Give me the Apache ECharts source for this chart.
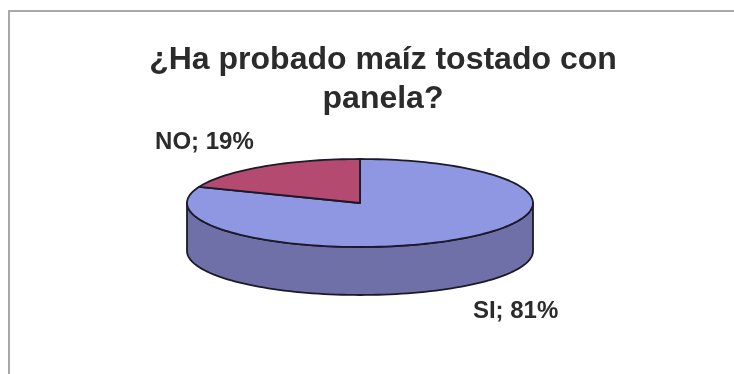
<!DOCTYPE html>
<html>
<head>
<meta charset="utf-8">
<script src="https://cdn.jsdelivr.net/npm/echarts@6/dist/echarts.min.js"></script>
<style>
  html, body { margin: 0; padding: 0; background: #ffffff; }
  #chart { width: 734px; height: 374px; }
</style>
</head>
<body>
<div id="chart"></div>
<script>
// Survey answers
const categories = ['SI', 'NO'];
const values = [81, 19];
const titleText = '¿Ha probado maíz tostado con\npanela?';

// Look of the tilted pie
const sliceColors = {
  SI: { top: '#8f96e2', side: '#6f70a8' },
  NO: { top: '#b44a70', side: '#7c2f4c' }
};
const pieLayout = { cx: 360, cy: 203, rx: 173, ry: 44, depth: 48 };
const labelReach = { x: 1.6, y: 1.66 };
const outline = '#1a1a28';

const total = values.reduce((a, b) => a + b, 0);
// Slices run clockwise from twelve o'clock (screen angles, y pointing down)
const sliceAngles = [];
let acc = -90;
values.forEach(v => {
  const sweep = v / total * 360;
  sliceAngles.push([acc, acc + sweep]);
  acc += sweep;
});

const rad = d => d * Math.PI / 180;
function rimPoint(deg, dy) {
  const { cx, cy, rx, ry } = pieLayout;
  return [cx + rx * Math.cos(rad(deg)), cy + ry * Math.sin(rad(deg)) + (dy || 0)];
}
function arcPoints(a0, a1, dy) {
  const pts = [];
  const n = Math.max(2, Math.ceil(Math.abs(a1 - a0) / 2));
  for (let i = 0; i <= n; i++) pts.push(rimPoint(a0 + (a1 - a0) * i / n, dy));
  return pts;
}
// Part of a slice that lies on the front half of the rim (0..180 degrees)
function frontSpans(a0, a1) {
  const spans = [];
  [-360, 0, 360].forEach(k => {
    const s = Math.max(a0, k), e = Math.min(a1, k + 180);
    if (e > s) spans.push([s, e]);
  });
  return spans;
}

function renderSlice(params, api) {
  const i = params.dataIndex;
  const name = categories[i];
  const value = api.value(0);
  const [a0, a1] = sliceAngles[i];
  const col = sliceColors[name];
  const { cx, cy, rx, ry, depth } = pieLayout;
  const children = [];

  frontSpans(a0, a1).forEach(([s, e]) => {
    const pts = arcPoints(s, e, 0).concat(arcPoints(e, s, depth));
    children.push({
      type: 'polygon', z2: 1,
      shape: { points: pts },
      style: { fill: col.side, stroke: outline, lineWidth: 1.8, lineJoin: 'round' }
    });
  });

  children.push({
    type: 'polygon', z2: 5,
    shape: { points: [[cx, cy]].concat(arcPoints(a0, a1, 0)) },
    style: { fill: col.top, stroke: outline, lineWidth: 1.8, lineJoin: 'round' }
  });

  const mid = (a0 + a1) / 2;
  const c = Math.cos(rad(mid)), s = Math.sin(rad(mid));
  children.push({
    type: 'text', z2: 10,
    x: cx + c * rx * labelReach.x,
    y: cy + s * ry * labelReach.y + (s > 0 ? depth : 0),
    style: {
      text: name + '; ' + Math.round(value / total * 100) + '%',
      fill: '#2b2b2b',
      font: 'bold 24px "Liberation Sans", Arial, sans-serif',
      align: 'center',
      verticalAlign: 'middle'
    }
  });
  return { type: 'group', children };
}

const chart = echarts.init(document.getElementById('chart'), null, { renderer: 'canvas' });
chart.setOption({
  backgroundColor: '#ffffff',
  animation: false,
  title: {
    text: titleText,
    left: 378,
    top: 36,
    textAlign: 'center',
    textStyle: {
      fontFamily: '"Liberation Sans", Arial, sans-serif',
      fontWeight: 'bold',
      fontSize: 32,
      lineHeight: 39,
      color: '#2b2b2b'
    }
  },
  graphic: [
    // chart area frame
    {
      type: 'rect', z: -1,
      shape: { x: 9, y: 11, width: 760, height: 400 },
      style: { fill: '#ffffff', stroke: '#a9a9a9', lineWidth: 2 }
    }
  ],
  series: [{
    type: 'custom',
    coordinateSystem: 'none',
    renderItem: renderSlice,
    data: values.map((v, i) => ({ name: categories[i], value: [v] }))
  }]
});
</script>
</body>
</html>
